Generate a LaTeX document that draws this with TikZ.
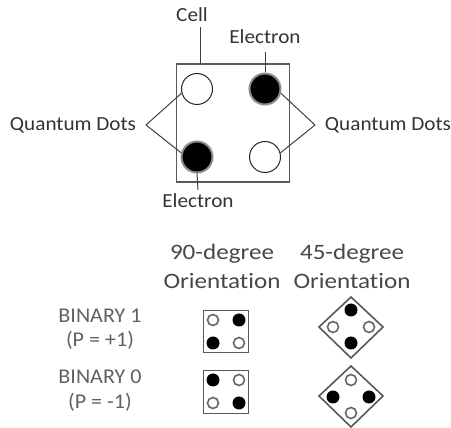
\documentclass[tikz,border=0pt]{standalone}
\usepackage{fontspec}
\setmainfont{Carlito}
\newfontfamily\topfont[FakeStretch=1.06]{Carlito}
\newfontfamily\headfont[FakeStretch=1.14,RawFeature=-liga]{Carlito}
\newfontfamily\binfont[FakeStretch=1.05]{Carlito}
\begin{document}
\begin{tikzpicture}[x=1pt,y=-1pt,
  lbl/.style={inner sep=0pt, font=\topfont\fontsize{20}{22}\selectfont, text=black!80},
  lbl2/.style={inner sep=0pt, font=\headfont\fontsize{22}{24}\selectfont, text=black!72},
  lbl3/.style={inner sep=0pt, font=\binfont\fontsize{21}{23}\selectfont, text=black!62},
  cellbox/.style={draw=black!65, line width=1.6pt, fill=white},
  dotopen/.style={circle, draw=black!85, line width=1pt, fill=white, minimum size=31pt, inner sep=0pt},
  dotfull/.style={circle, draw=black!45, line width=2pt, fill=black, minimum size=31pt, inner sep=0pt},
  sopen/.style={circle, draw=black!60, line width=1.6pt, fill=white, minimum size=11pt, inner sep=0pt},
  sfull/.style={circle, fill=black, minimum size=13pt, inner sep=0pt},
  lead/.style={draw=black!75, line width=1pt}]
\useasboundingbox (0,0) rectangle (451,428);
% main cell
\node[cellbox, minimum width=113pt, minimum height=118pt, inner sep=0pt] (cell) at (233,123) {};
\node[dotopen] (d1) at (197,89) {};
\node[dotfull] (d2) at (265,89) {};
\node[dotfull] (d3) at (197,157) {};
\node[dotopen] (d4) at (265,157) {};
% labels
\node[lbl] (lcell) at (192,15) {Cell};
\node[lbl] (le1) at (265,37) {Electron};
\node[lbl] (le2) at (198,201) {Electron};
\node[lbl] (lq1) at (73,125) {Quantum Dots};
\node[lbl] (lq2) at (388,125) {Quantum Dots};
\coordinate (ccell) at (200,27);
\coordinate (ccelltop) at (200,64);
\coordinate (ce1) at (265,52);
\coordinate (ce2) at (198,190);
\coordinate (aq1) at (146,125);
\coordinate (aq2) at (315,125);
\draw[lead] (ccell) -- (ccelltop);
\draw[lead] (ce1) -- (d2.north);
\draw[lead] (d3.south) -- (ce2);
\draw[lead] (d1.195) -- (aq1) -- (d3.165);
\draw[lead] (d2.-15) -- (aq2) -- (d4.15);
% bottom table
\node[lbl2] (h1a) at (222,254) {90-degree};
\node[lbl2] (h1b) at (222,281) {Orientation};
\node[lbl2] (h2a) at (352,254) {45-degree};
\node[lbl2] (h2b) at (352,281) {Orientation};
\node[lbl3] (b1a) at (100,316) {BINARY 1};
\node[lbl3] (b1b) at (100,340) {(P = +1)};
\node[lbl3] (b0a) at (100,377) {BINARY 0};
\node[lbl3] (b0b) at (100,402) {(P = -1)};
% 90-degree binary 1
\node[cellbox, minimum width=45pt, minimum height=42pt, inner sep=0pt] (sq1) at (226,331.5) {};
\node[sopen] (s1a) at (213,320) {};
\node[sfull] (s1b) at (239,320) {};
\node[sfull] (s1c) at (213,343) {};
\node[sopen] (s1d) at (239,343) {};
% 90-degree binary 0
\node[cellbox, minimum width=45pt, minimum height=43pt, inner sep=0pt] (sq0) at (226,392) {};
\node[sfull] (s0a) at (213,380) {};
\node[sopen] (s0b) at (239,380) {};
\node[sopen] (s0c) at (213,403) {};
\node[sfull] (s0d) at (239,403) {};
% 45-degree binary 1
\draw[cellbox] (351,297) coordinate (dm1t) -- (383,327) -- (351,358) -- (319,327) -- cycle;
\node[sfull] (t1a) at (351,310) {};
\node[sopen] (t1b) at (333,327) {};
\node[sopen] (t1c) at (369,327) {};
\node[sfull] (t1d) at (351,343) {};
% 45-degree binary 0
\draw[cellbox] (351,366) coordinate (dm0t) -- (383,396) -- (351,427) -- (319,396) -- cycle;
\node[sopen] (t0a) at (351,380) {};
\node[sfull] (t0b) at (333,397) {};
\node[sfull] (t0c) at (369,397) {};
\node[sopen] (t0d) at (351,413) {};
\end{tikzpicture}
\end{document}
